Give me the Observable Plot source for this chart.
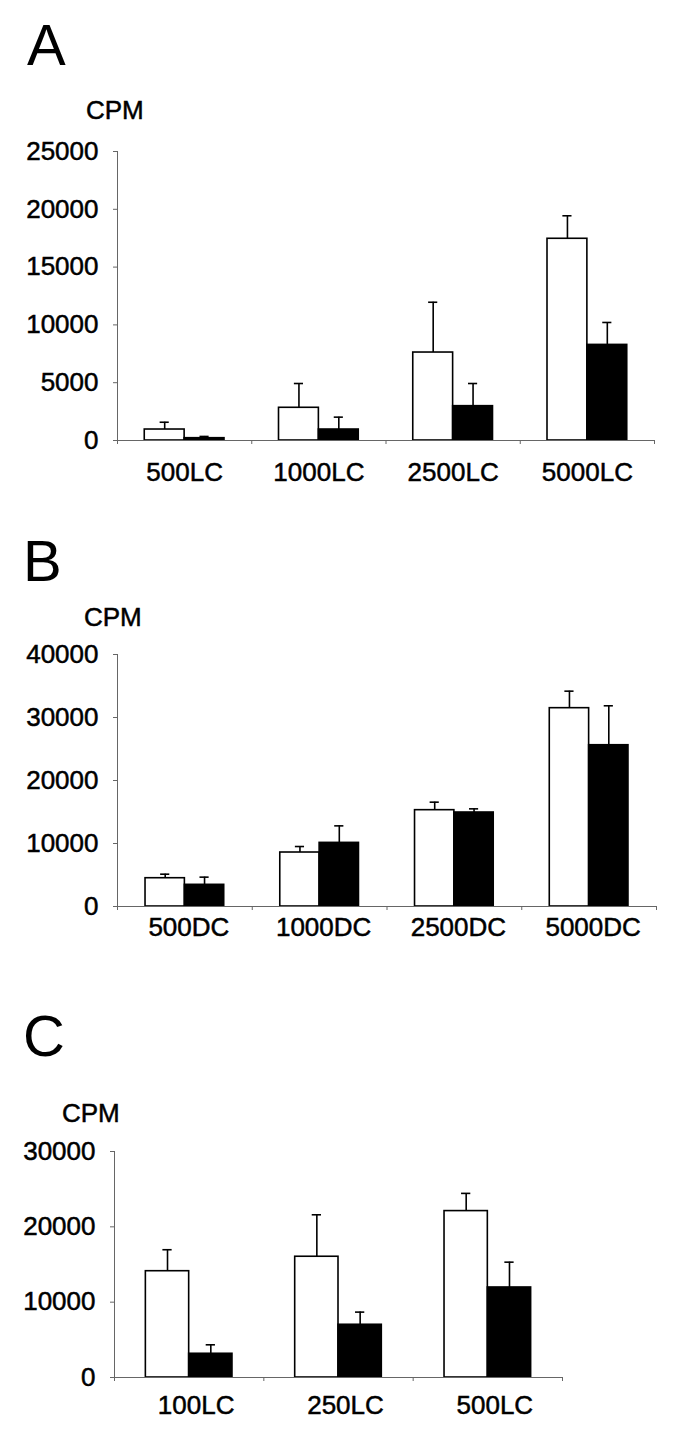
<!DOCTYPE html>
<html><head><meta charset="utf-8">
<script src="https://cdn.jsdelivr.net/npm/d3@7"></script>
<script src="https://cdn.jsdelivr.net/npm/@observablehq/plot@0.6"></script>
<style>
body{margin:0;background:#fff;font-family:"Liberation Sans",Arial,Helvetica,sans-serif;}
#page{position:relative;width:685px;height:1454px;overflow:hidden;}
.lbl{position:absolute;line-height:1;color:#000;white-space:nowrap;}
.lbl.small{-webkit-text-stroke:0.5px #000;}
.panel{position:absolute;left:0;}
.panel svg text{stroke:#000;stroke-width:0.5px;}
</style></head><body><div id="page"></div>
<script>
// ---- Data ----
const categoriesA = ["500LC", "1000LC", "2500LC", "5000LC"];
const whiteA = [950, 2830, 7610, 17450];
const whiteSdA = [630, 2100, 4350, 1990];
const blackA = [200, 950, 2970, 8270];
const blackSdA = [150, 1070, 1960, 1940];
const yTicksA = [0, 5000, 10000, 15000, 20000, 25000];

const categoriesB = ["500DC", "1000DC", "2500DC", "5000DC"];
const whiteB = [4490, 8570, 15290, 31480];
const whiteSdB = [640, 950, 1270, 2700];
const blackB = [3440, 10100, 14920, 25600];
const blackSdB = [1220, 2700, 580, 6260];
const yTicksB = [0, 10000, 20000, 30000, 40000];

const categoriesC = ["100LC", "250LC", "500LC"];
const whiteC = [14110, 16030, 22090];
const whiteSdC = [2850, 5570, 2350];
const blackC = [3150, 7000, 11950];
const blackSdC = [1190, 1680, 3360];
const yTicksC = [0, 10000, 20000, 30000];

const panelLetters = ["A", "B", "C"];
const yLabel = "CPM";

// ---- Layout ----
const page = document.getElementById("page");
const FONT = '"Liberation Sans", Arial, Helvetica, sans-serif';

function addText(txt, left, top, size, cls) {
  const d = document.createElement("div");
  d.className = "lbl" + (cls ? " " + cls : "");
  d.textContent = txt;
  d.style.left = left + "px";
  d.style.top = top + "px";
  d.style.fontSize = size + "px";
  page.appendChild(d);
}

function makePanel(cats, white, whiteSd, black, blackSd, yTicks, L) {
  const n = cats.length;
  const W = L.barW;      // bar width as fraction of a category slot
  const C = L.capW;      // half cap width, same units
  const rows = cats.flatMap((c, i) => [
    {i, group: "white", v: white[i], sd: whiteSd[i]},
    {i, group: "black", v: black[i], sd: blackSd[i]}
  ]);
  const left = d => d.i + 0.5 + (d.group === "white" ? -W : 0);
  const mid = d => left(d) + W / 2;
  const chart = Plot.plot({
    width: 685,
    height: L.height,
    marginTop: L.marginTop,
    marginBottom: L.marginBottom,
    marginLeft: L.marginLeft,
    marginRight: L.marginRight,
    style: {background: "transparent", fontFamily: FONT, fontSize: "26px", color: "#000"},
    x: {type: "linear", domain: [0, n], axis: null},
    y: {domain: [0, yTicks[yTicks.length - 1]], axis: null},
    color: {domain: ["white", "black"], range: ["#ffffff", "#000000"]},
    marks: [
      Plot.rectY(rows, {x1: left, x2: d => left(d) + W, y1: 0, y2: "v",
        fill: "group", stroke: "#000", strokeWidth: 1.6}),
      Plot.ruleX(rows, {x: mid, y1: "v", y2: d => d.v + d.sd, stroke: "#000", strokeWidth: 1.6}),
      Plot.ruleY(rows, {y: d => d.v + d.sd, x1: d => mid(d) - C, x2: d => mid(d) + C,
        stroke: "#000", strokeWidth: 1.6}),
      Plot.ruleX([0], {stroke: "#666", strokeWidth: 1}),
      Plot.ruleY([0], {stroke: "#666", strokeWidth: 1}),
      Plot.axisY({ticks: yTicks, tickSize: 4, tickPadding: 15, stroke: "#666", label: null,
        tickFormat: d => String(d), fill: "#000"}),
      Plot.axisX({ticks: d3.range(n + 1), tickSize: 4, stroke: "#666", label: null,
        tickFormat: () => ""}),
      Plot.axisX({ticks: cats.map((c, i) => i + 0.5), tickSize: 0, tickPadding: L.labelPad,
        dx: L.labelDx, fill: "#000", label: null, tickFormat: v => cats[Math.floor(v)]})
    ]
  });
  const wrap = document.createElement("div");
  wrap.className = "panel";
  wrap.style.top = L.top + "px";
  wrap.appendChild(chart);
  page.appendChild(wrap);
}

makePanel(categoriesA, whiteA, whiteSdA, blackA, blackSdA, yTicksA,
  {top: 120, height: 380, marginTop: 31, marginBottom: 60, marginLeft: 117, marginRight: 31,
   labelPad: 22, labelDx: 0, barW: 0.297, capW: 0.034});
makePanel(categoriesB, whiteB, whiteSdB, blackB, blackSdB, yTicksB,
  {top: 630, height: 340, marginTop: 24, marginBottom: 64, marginLeft: 117, marginRight: 29,
   labelPad: 11, labelDx: 4, barW: 0.292, capW: 0.034});
makePanel(categoriesC, whiteC, whiteSdC, blackC, blackSdC, yTicksC,
  {top: 1130, height: 320, marginTop: 21, marginBottom: 73, marginLeft: 114, marginRight: 123,
   labelPad: 18, labelDx: 7, barW: 0.29, capW: 0.031});

addText(panelLetters[0], 27, 16.4, 58);
addText(yLabel, 86, 96.6, 26, "small");
addText(panelLetters[1], 23, 532.4, 58);
addText(yLabel, 84, 603.6, 26, "small");
addText(panelLetters[2], 23, 1007.4, 58);
addText(yLabel, 62, 1099.6, 26, "small");
</script></body></html>
